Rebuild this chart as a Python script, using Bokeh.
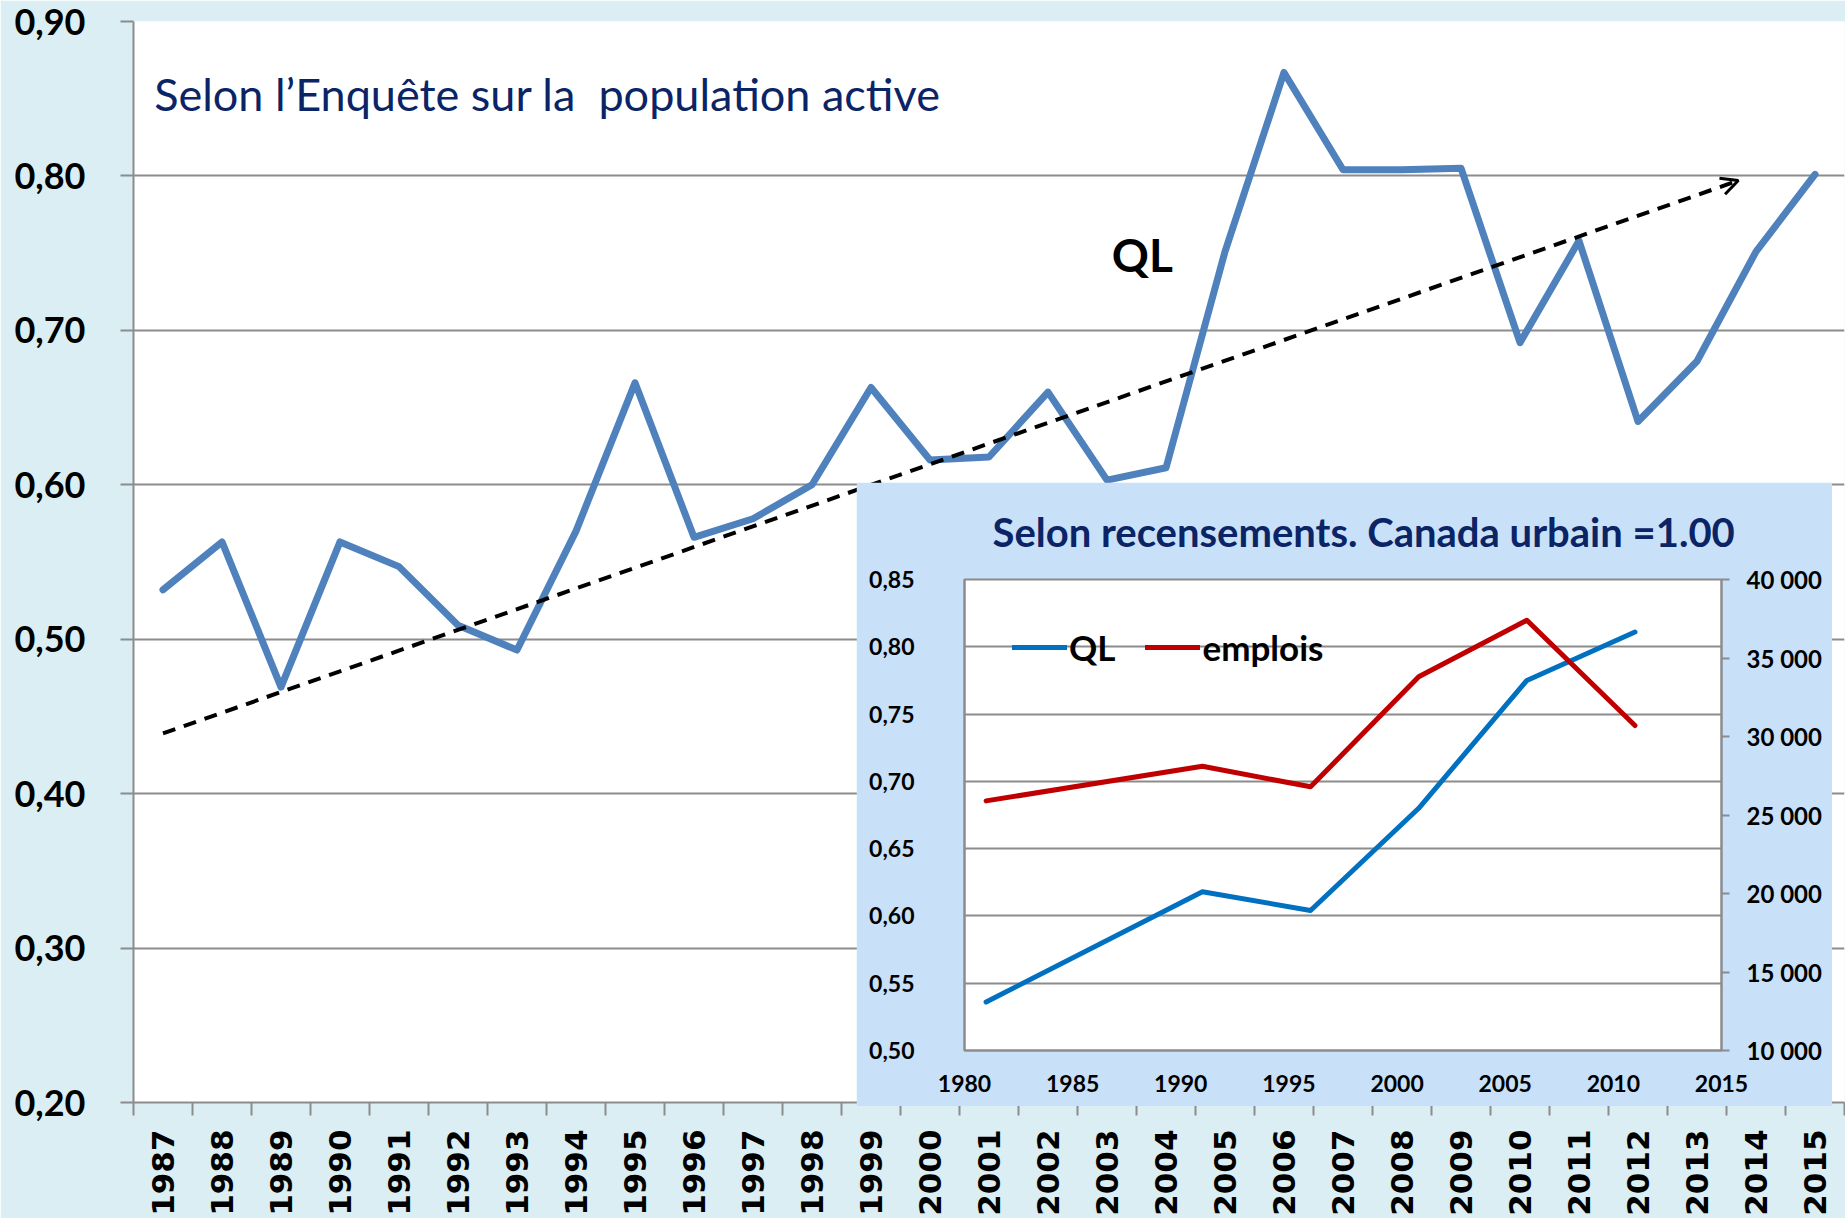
import math
from bokeh.plotting import figure
from bokeh.models import (FixedTicker, LinearAxis, Range1d, Label, Arrow, OpenHead,
                          Legend, LegendItem)
from bokeh.embed import file_html
from bokeh.resources import INLINE

# ---------------- data: main chart (Enquête sur la population active) ----------------
years = list(range(1987, 2016))
ql_epa = [0.532, 0.563, 0.469, 0.563, 0.547, 0.509, 0.493, 0.570, 0.666, 0.566,
          0.578, 0.600, 0.663, 0.616, 0.618, 0.660, 0.603, 0.611, 0.751, 0.867,
          0.804, 0.804, 0.805, 0.692, 0.758, 0.641, 0.680, 0.751, 0.801]
trend_x = [1987.0, 2013.7]
trend_y = [0.439, 0.797]
y_ticks = [0.20, 0.30, 0.40, 0.50, 0.60, 0.70, 0.80, 0.90]
y_tick_labels = ["0,20", "0,30", "0,40", "0,50", "0,60", "0,70", "0,80", "0,90"]

# ---------------- data: inset (recensements) ----------------
census_years = [1981, 1991, 1996, 2001, 2006, 2011]
ql_census = [0.536, 0.618, 0.604, 0.680, 0.775, 0.811]
emplois = [25900, 28100, 26800, 33800, 37400, 30700]
inset_x_ticks = [1980, 1985, 1990, 1995, 2000, 2005, 2010, 2015]
inset_y_ticks = [0.50, 0.55, 0.60, 0.65, 0.70, 0.75, 0.80, 0.85]
inset_y_labels = ["0,50", "0,55", "0,60", "0,65", "0,70", "0,75", "0,80", "0,85"]
emp_ticks = [10000, 15000, 20000, 25000, 30000, 35000, 40000]
emp_labels = ["10 000", "15 000", "20 000", "25 000", "30 000", "35 000", "40 000"]

GRID = "#8C8C8C"
NAVY = "#0B2466"

# ---------------- main figure ----------------
p = figure(width=1845, height=1218,
           x_range=Range1d(1986.5, 2015.5), y_range=Range1d(0.20, 0.90),
           output_backend="svg", toolbar_location=None,
           min_border_left=133, min_border_right=1, min_border_top=21, min_border_bottom=116,
           background_fill_color="white", border_fill_color="#DAEEF3",
           outline_line_color=None)

xa = p.xaxis[0]
xa.ticker = FixedTicker(ticks=years, minor_ticks=[y - 0.5 for y in years] + [years[-1] + 0.5])
xa.major_label_overrides = {y: str(y) for y in years}
xa.major_label_orientation = math.pi / 2
xa.major_tick_out = 0
xa.major_tick_in = 0
xa.minor_tick_out = 13
xa.minor_tick_in = 0
xa.minor_tick_line_color = GRID
xa.minor_tick_line_width = 2
xa.axis_line_color = GRID
xa.axis_line_width = 2
xa.major_label_standoff = 14
xa.major_label_text_font = "DejaVu Sans"
xa.major_label_text_font_style = "bold"
xa.major_label_text_font_size = "31px"
xa.major_label_text_color = "black"

ya = p.yaxis[0]
ya.ticker = FixedTicker(ticks=y_ticks)
ya.major_label_overrides = dict(zip(y_ticks, y_tick_labels))
ya.major_tick_out = 13
ya.major_tick_in = 0
ya.minor_tick_out = 0
ya.minor_tick_in = 0
ya.major_tick_line_color = GRID
ya.major_tick_line_width = 2
ya.axis_line_color = GRID
ya.axis_line_width = 2
ya.major_label_standoff = 35
ya.major_label_text_font = "Lato"
ya.major_label_text_font_style = "bold"
ya.major_label_text_font_size = "36px"
ya.major_label_text_color = "black"

p.xgrid.grid_line_color = None
p.ygrid.ticker = FixedTicker(ticks=y_ticks)
p.ygrid.grid_line_color = GRID
p.ygrid.grid_line_width = 2

p.line(years, ql_epa, line_color="#4F81BD", line_width=7, line_join="round", line_cap="round")

p.add_layout(Arrow(end=OpenHead(size=17, line_width=3, line_color="black"),
                   x_start=trend_x[0], y_start=trend_y[0], x_end=trend_x[1], y_end=trend_y[1],
                   line_width=4, line_dash="13 9", line_color="black"))

p.add_layout(Label(x=1986.85, y=0.853, text="Selon l\u2019Enqu\u00eate sur la\u00a0 population active",
                   text_font="Lato", text_font_size="45px", text_color=NAVY,
                   text_baseline="middle", text_align="left"))
p.add_layout(Label(x=2003.6, y=0.749, text="QL", text_font="Lato", text_font_style="bold",
                   text_font_size="46px", text_color="black",
                   text_baseline="middle", text_align="center"))

# ---------------- inset figure ----------------
q = figure(width=976, height=624,
           x_range=Range1d(1980, 2015), y_range=Range1d(0.50, 0.85),
           output_backend="svg", toolbar_location=None,
           min_border_left=108, min_border_right=111, min_border_top=97, min_border_bottom=56,
           background_fill_color="white", border_fill_color="#C8E1F9",
           outline_line_color=GRID, outline_line_width=2)
q.extra_y_ranges = {"emp": Range1d(10000, 40000)}

q.title.text = "Selon recensements. Canada urbain =1.00"
q.title.align = "left"
q.title.offset = 28
q.title.standoff = 47
q.title.text_font = "Lato"
q.title.text_font_style = "bold"
q.title.text_font_size = "40px"
q.title.text_color = NAVY

qx = q.xaxis[0]
qx.ticker = FixedTicker(ticks=inset_x_ticks)
qx.major_label_overrides = {t: str(t) for t in inset_x_ticks}
qx.major_tick_out = 0
qx.major_tick_in = 0
qx.minor_tick_out = 0
qx.minor_tick_in = 0
qx.axis_line_color = GRID
qx.axis_line_width = 2
qx.major_label_standoff = 24
qx.major_label_text_font = "Lato"
qx.major_label_text_font_style = "bold"
qx.major_label_text_font_size = "23px"
qx.major_label_text_color = "black"

qy = q.yaxis[0]
qy.ticker = FixedTicker(ticks=inset_y_ticks)
qy.major_label_overrides = dict(zip(inset_y_ticks, inset_y_labels))
qy.major_tick_out = 0
qy.major_tick_in = 0
qy.minor_tick_out = 0
qy.minor_tick_in = 0
qy.axis_line_color = GRID
qy.axis_line_width = 2
qy.major_label_standoff = 50
qy.major_label_text_font = "Lato"
qy.major_label_text_font_style = "bold"
qy.major_label_text_font_size = "23px"
qy.major_label_text_color = "black"

qr = LinearAxis(y_range_name="emp", ticker=FixedTicker(ticks=emp_ticks),
                major_label_overrides=dict(zip(emp_ticks, emp_labels)),
                major_tick_out=8, major_tick_in=0, minor_tick_out=0, minor_tick_in=0,
                major_tick_line_color=GRID, major_tick_line_width=2,
                axis_line_color=GRID, axis_line_width=2,
                major_label_standoff=17, major_label_text_font="Lato",
                major_label_text_font_style="bold", major_label_text_font_size="24px",
                major_label_text_color="black")
q.add_layout(qr, "right")

q.xgrid.grid_line_color = None
q.ygrid.ticker = FixedTicker(ticks=inset_y_ticks)
q.ygrid.grid_line_color = GRID
q.ygrid.grid_line_width = 2

r1 = q.line(census_years, ql_census, line_color="#0070C0", line_width=5,
            line_join="round", line_cap="round")
r2 = q.line(census_years, emplois, y_range_name="emp", line_color="#C00000", line_width=5,
            line_join="round", line_cap="round")

legend = Legend(items=[LegendItem(label="QL", renderers=[r1]),
                       LegendItem(label="emplois", renderers=[r2])],
                orientation="horizontal", location=(48, 382),
                background_fill_alpha=0, border_line_color=None,
                glyph_width=55, glyph_height=34, label_standoff=2, spacing=30,
                padding=0, margin=0,
                label_text_font="Lato", label_text_font_style="bold",
                label_text_font_size="35px", label_text_color="black")
q.add_layout(legend)

q.styles = {"position": "absolute", "left": "856px", "top": "482px"}

open("out.html", "w").write(file_html([p, q], INLINE))
